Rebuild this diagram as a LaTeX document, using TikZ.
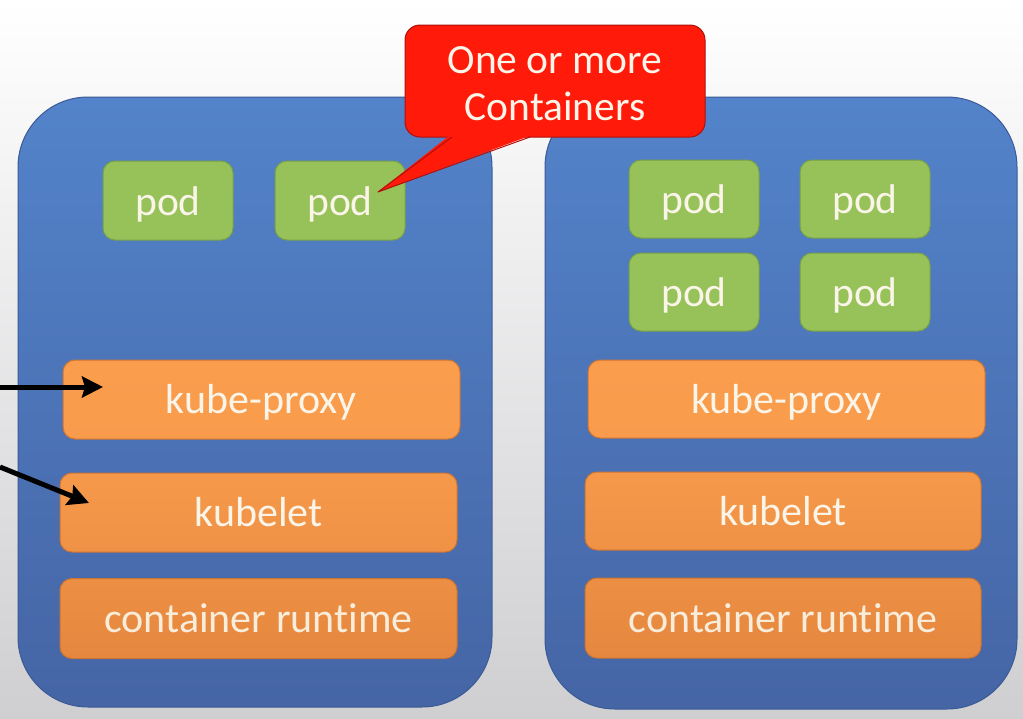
\documentclass[tikz,border=0pt]{standalone}
\usepackage{fontspec}
\setmainfont{Carlito}[Ligatures=NoCommon]
\usetikzlibrary{arrows.meta}
\definecolor{bggray}{HTML}{CFCFD2}
\definecolor{blueT}{HTML}{5383CA}
\definecolor{blueB}{HTML}{4565A5}
\definecolor{blueline}{HTML}{3A5A96}
\definecolor{podgreen}{HTML}{97C25A}
\definecolor{podline}{HTML}{78A046}
\definecolor{orangeT}{HTML}{FA9D4D}
\definecolor{orangeB}{HTML}{E5873E}
\definecolor{orangeline}{HTML}{CC7433}
\definecolor{calloutred}{HTML}{FF1A0A}
\definecolor{calloutline}{HTML}{B0100C}
\definecolor{txt}{HTML}{FAF5E8}
\tikzset{
  worker/.style={rectangle, rounded corners=70pt, draw=blueline, line width=1pt,
    top color=blueT, bottom color=blueB, inner sep=0pt},
  podbox/.style={rectangle, rounded corners=12pt, draw=podline, line width=1pt,
    fill=podgreen, minimum width=130pt, minimum height=79pt, inner sep=0pt,
    text=txt, font=\fontsize{41.5}{47}\selectfont, text height=31pt, text depth=2pt},
  compbox/.style={rectangle, rounded corners=12pt, draw=orangeline, line width=1pt,
    minimum width=397pt, minimum height=79pt, inner sep=0pt,
    text=txt, font=\fontsize{42}{47}\selectfont, text height=30pt, text depth=2pt},
  calloutbox/.style={rectangle, rounded corners=15pt, draw=calloutline, line width=1pt,
    fill=calloutred, minimum width=300pt, minimum height=112pt, inner sep=0pt},
  conn/.style={line width=5pt, -{Stealth[length=21pt,width=21pt,inset=3pt]}}
}
\begin{document}
\begin{tikzpicture}[x=1pt,y=-1pt]
\useasboundingbox (0,0) rectangle (1023,718);
\fill[top color=white, middle color=white, bottom color=bggray] (0,0) rectangle (1023,718);

% worker nodes
\node[worker, minimum width=474pt, minimum height=610pt] (w1) at (255,402) {};
\node[worker, minimum width=472pt, minimum height=612pt] (w2) at (781,403) {};

% pods
\node[podbox] (p1) at (168,200.5) {pod};
\node[podbox] (p2) at (340,200.5) {pod};
\node[podbox, minimum height=78pt] (p3) at (694,199) {pod};
\node[podbox, minimum height=78pt] (p4) at (865,199) {pod};
\node[podbox, minimum height=78pt] (p5) at (694,292) {pod};
\node[podbox, minimum height=78pt] (p6) at (865,292) {pod};

% components left
\node[compbox, top color=orangeT, bottom color=orangeT!92!orangeB] (kp1) at (261.5,399.5) {kube-proxy};
\node[compbox, top color=orangeT!80!orangeB, bottom color=orangeT!50!orangeB] (kl1) at (258.5,512.5) {kubelet};
\node[compbox, minimum height=80pt, top color=orangeT!35!orangeB, bottom color=orangeB, text=txt!92!orangeB] (cr1) at (258.5,618.5) {container runtime};

% components right
\node[compbox, minimum height=78pt, top color=orangeT, bottom color=orangeT!92!orangeB] (kp2) at (786.5,399) {kube-proxy};
\node[compbox, minimum width=396pt, minimum height=78pt, top color=orangeT!80!orangeB, bottom color=orangeT!50!orangeB] (kl2) at (783,511) {kubelet};
\node[compbox, minimum width=396pt, minimum height=80pt, top color=orangeT!35!orangeB, bottom color=orangeB, text=txt!92!orangeB] (cr2) at (783,618) {container runtime};

% callout
\node[calloutbox] (note) at (555,81) {};
\node[text=txt, font=\fontsize{41.5}{47}\selectfont, align=center, inner sep=0pt] (notetext) at (555,84) {One or more\\Containers};
\coordinate (tip) at (378,192);
\fill[calloutred] (450,135) -- (tip) -- (532,135) -- cycle;
\draw[calloutline, line width=1pt, line join=round] (452,137) -- (tip) -- (530,137);

% arrows from the left
\coordinate (a1s) at (0,387);
\coordinate (a1e) at (103,387);
\coordinate (a2s) at (0,467);
\coordinate (a2e) at (89,503);
\draw[conn] (a1s) -- (a1e);
\draw[conn] (a2s) -- (a2e);
\end{tikzpicture}
\end{document}
